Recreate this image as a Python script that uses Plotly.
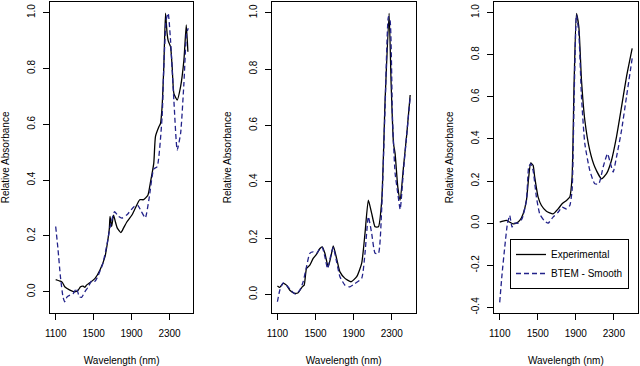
import plotly.graph_objects as go

# ---------------- data ----------------
# Panel 1
wl_exp1 = [1100, 1150, 1170, 1195, 1250, 1300, 1337, 1362, 1390, 1408, 1425, 1460, 1515, 1567, 1620,
           1645, 1666, 1673, 1690, 1710, 1730, 1750, 1787, 1815, 1850, 1904, 1940, 1986, 2027, 2073,
           2098, 2134, 2152, 2187, 2205, 2222, 2240, 2258, 2275, 2286, 2311, 2328, 2346, 2381, 2417,
           2452, 2477, 2494]
ab_exp1 = [0.044, 0.038, 0.034, 0.018, 0.006, 0.0, 0.006, 0.018, 0.02, 0.016, 0.024, 0.032, 0.048, 0.078, 0.126,
           0.174, 0.228, 0.27, 0.234, 0.275, 0.25, 0.228, 0.212, 0.228, 0.25, 0.275, 0.30, 0.33, 0.33, 0.347,
           0.39, 0.46, 0.556, 0.59, 0.603, 0.663, 0.806, 0.998, 0.925, 0.90, 0.878, 0.806, 0.711, 0.687, 0.735,
           0.83, 0.956, 0.86]
wl_bt1 = [1100, 1125, 1150, 1177, 1195, 1220, 1250, 1285, 1320, 1349, 1373, 1408, 1444, 1480, 1515,
          1550, 1596, 1640, 1675, 1721, 1763, 1799, 1852, 1925, 1965, 2000, 2045, 2083, 2134, 2170,
          2222, 2240, 2265, 2286, 2311, 2346, 2381, 2417, 2452, 2480, 2498]
ab_bt1 = [0.234, 0.15, 0.054, -0.018, -0.036, -0.018, -0.012, -0.006, 0.012, -0.018, -0.02, 0.0, 0.018, 0.04, 0.038,
          0.06, 0.10, 0.168, 0.234, 0.287, 0.27, 0.264, 0.276, 0.305, 0.31, 0.29, 0.265, 0.33, 0.44, 0.448,
          0.627, 0.806, 0.974, 0.998, 0.90, 0.687, 0.508, 0.567, 0.747, 0.926, 0.944]

# Panel 2
wl_exp2 = [1100, 1125, 1160, 1195, 1230, 1282, 1318, 1360, 1381, 1405, 1440, 1475, 1511, 1546, 1570,
           1598, 1633, 1661, 1686, 1721, 1756, 1809, 1872, 1932, 1984, 2019, 2054, 2089, 2125, 2160,
           2195, 2230, 2272, 2293, 2318, 2335, 2363, 2388, 2423, 2458, 2493]
ab_exp2 = [0.03, 0.025, 0.039, 0.033, 0.015, 0.004, 0.006, 0.027, 0.033, 0.092, 0.104, 0.128, 0.143, 0.163, 0.169,
           0.146, 0.098, 0.134, 0.172, 0.128, 0.080, 0.057, 0.045, 0.063, 0.11, 0.217, 0.335, 0.288, 0.24, 0.24,
           0.335, 0.69, 0.998, 0.75, 0.536, 0.50, 0.382, 0.335, 0.453, 0.572, 0.708]
wl_bt2 = [1100, 1125, 1160, 1195, 1247, 1289, 1335, 1370, 1405, 1440, 1475, 1511, 1546, 1570, 1598,
          1626, 1661, 1686, 1721, 1756, 1809, 1861, 1914, 1984, 2019, 2054, 2089, 2125, 2160, 2195,
          2230, 2265, 2282, 2307, 2335, 2363, 2388, 2423, 2458, 2493]
ab_bt2 = [-0.026, 0.015, 0.041, 0.033, 0.013, 0.001, 0.015, 0.045, 0.098, 0.146, 0.151, 0.146, 0.163, 0.167, 0.134,
          0.092, 0.14, 0.167, 0.116, 0.063, 0.033, 0.027, 0.039, 0.057, 0.146, 0.276, 0.217, 0.146, 0.146, 0.311,
          0.666, 0.986, 0.974, 0.63, 0.43, 0.359, 0.302, 0.44, 0.572, 0.70]

# Panel 3
wl_exp3 = [1100, 1135, 1170, 1205, 1240, 1275, 1311, 1346, 1381, 1405, 1426, 1451, 1468, 1504, 1539,
           1591, 1661, 1714, 1756, 1802, 1837, 1861, 1882, 1907, 1932, 1960, 1995, 2047, 2100, 2170,
           2223, 2275, 2328, 2381, 2433, 2493]
ab_exp3 = [0.005, 0.01, 0.013, 0.005, -0.003, 0.0, 0.013, 0.044, 0.108, 0.219, 0.286, 0.275, 0.219, 0.124, 0.084,
           0.057, 0.044, 0.068, 0.092, 0.108, 0.124, 0.219, 0.663, 0.997, 0.933, 0.679, 0.489, 0.346, 0.267, 0.211,
           0.235, 0.298, 0.41, 0.552, 0.695, 0.83]
wl_bt3 = [1100, 1125, 1153, 1181, 1205, 1230, 1251, 1293, 1335, 1381, 1405, 1426, 1451, 1486, 1521,
          1567, 1609, 1661, 1714, 1756, 1802, 1837, 1861, 1882, 1907, 1932, 1960, 1995, 2047, 2100,
          2142, 2188, 2233, 2265, 2293, 2328, 2381, 2433, 2493]
ab_bt3 = [-0.376, -0.241, -0.114, -0.003, 0.037, -0.019, 0.0, 0.0, 0.021, 0.108, 0.267, 0.283, 0.251, 0.124, 0.044,
          0.013, 0.0, 0.029, 0.052, 0.076, 0.068, 0.084, 0.156, 0.584, 0.989, 0.902, 0.6, 0.378, 0.251, 0.187,
          0.187, 0.267, 0.33, 0.283, 0.243, 0.314, 0.441, 0.6, 0.783]

x_ticks = [1100, 1500, 1900, 2300]
y_ticks12 = [0.0, 0.2, 0.4, 0.6, 0.8, 1.0]
y_ticks3 = [-0.4, -0.2, 0.0, 0.2, 0.4, 0.6, 0.8, 1.0]
series_names = ["Experimental", "BTEM - Smooth"]

panels = [
    (wl_exp1, ab_exp1, wl_bt1, ab_bt1, [-0.077, 1.040], y_ticks12),
    (wl_exp2, ab_exp2, wl_bt2, ab_bt2, [-0.067, 1.040], y_ticks12),
    (wl_exp3, ab_exp3, wl_bt3, ab_bt3, [-0.428, 1.053], y_ticks3),
]

# ---------------- figure ----------------
W, H = 640, 366
FONT = "Liberation Sans, Arial, Helvetica, sans-serif"
BLACK = "#000000"
NAVY = "#22228a"

x_dom = [[50 / W, 193.3 / W], [271.7 / W, 415.7 / W], [494 / W, 637.7 / W]]
y_dom = [1 - 313.3 / H, 1 - 1.5 / H]

fig = go.Figure()
layout = {}
for i, (wx, ax, wb, ab, yr, yt) in enumerate(panels):
    n = "" if i == 0 else str(i + 1)
    xa, ya = "x" + n, "y" + n
    fig.add_trace(go.Scatter(x=wx, y=ax, mode="lines", name=series_names[0],
                             line=dict(color=BLACK, width=1.3, shape="spline", smoothing=0.5),
                             xaxis=xa, yaxis=ya, showlegend=(i == 2), legendrank=1))
    fig.add_trace(go.Scatter(x=wb, y=ab, mode="lines", name=series_names[1],
                             line=dict(color=NAVY, width=1.3, dash="5px,3px", shape="spline", smoothing=0.5),
                             xaxis=xa, yaxis=ya, showlegend=(i == 2), legendrank=2))
    common = dict(showline=True, linecolor="black", linewidth=1, mirror=True,
                  ticks="outside", ticklen=6, tickwidth=1, tickcolor="black",
                  showgrid=False, zeroline=False, automargin=False,
                  tickfont=dict(family=FONT, size=10, color="black"))
    layout["xaxis" + n] = dict(domain=x_dom[i], range=[1040, 2551], tickvals=x_ticks,
                               ticktext=[str(v) for v in x_ticks], anchor=ya,
                               ticklabelstandoff=5,
                               title=dict(text="Wavelength (nm)", standoff=21,
                                          font=dict(family=FONT, size=10, color="black")),
                               **common)
    layout["yaxis" + n] = dict(domain=y_dom, range=yr, tickvals=yt,
                               ticktext=["%.1f" % v for v in yt], anchor=xa,
                               tickangle=-90, ticklabelstandoff=4,
                               title=dict(text="Relative Absorbance", standoff=14,
                                          font=dict(family=FONT, size=10, color="black")),
                               **common)

fig.update_layout(
    width=W, height=H,
    margin=dict(l=0, r=0, t=0, b=0, autoexpand=False),
    paper_bgcolor="white", plot_bgcolor="white",
    showlegend=True,
    legend=dict(x=510 / W, y=1 - 239 / H, xanchor="left", yanchor="top",
                bordercolor="black", borderwidth=1, bgcolor="white",
                font=dict(family=FONT, size=10, color="black"),
                itemwidth=30, tracegroupgap=0),
    **layout,
)

fig.write_html("out.html", config={"displayModeBar": False},
               post_script="document.body.style.margin='0';")
